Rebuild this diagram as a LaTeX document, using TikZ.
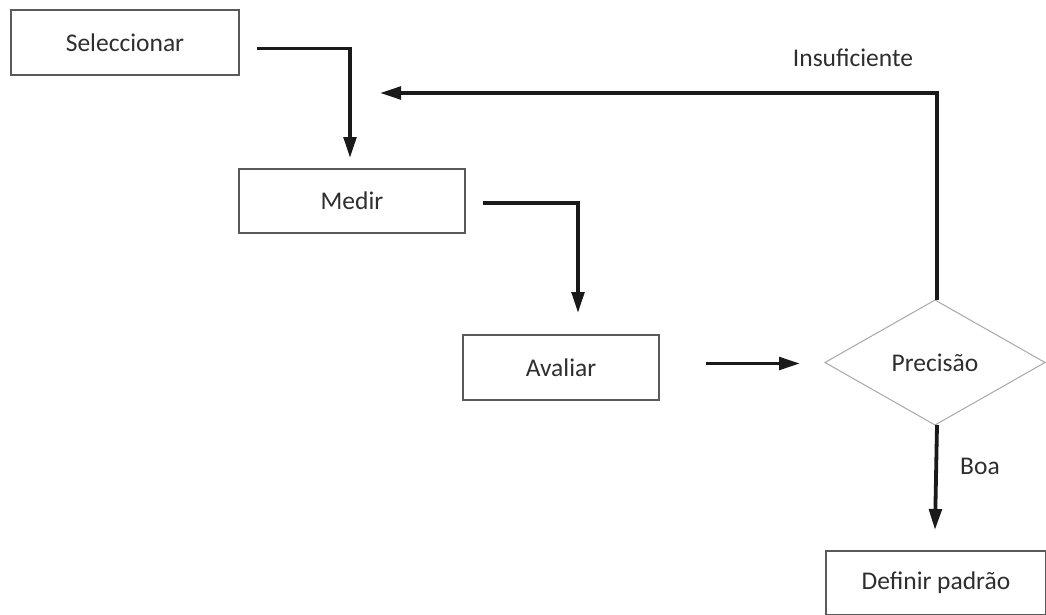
\documentclass[tikz,border=0pt]{standalone}
\usepackage{fontspec}
\setmainfont{Carlito}
\usetikzlibrary{arrows.meta,shapes.geometric,calc}
\definecolor{txt}{HTML}{2E2E2E}
\definecolor{frame}{HTML}{5A5A5A}
\definecolor{dframe}{HTML}{A8A8A8}
\definecolor{conncol}{HTML}{1A1A1A}
\tikzset{
  box/.style={draw=frame, line width=1.4pt, fill=white, inner sep=0pt, outer sep=0pt,
    text=txt, font=\fontsize{25.5}{28}\selectfont},
  decision/.style={diamond, draw=dframe, line width=1pt, inner sep=0pt, outer sep=0pt,
    minimum width=220pt, minimum height=125pt, aspect=1.76,
    text=txt, font=\fontsize{25.5}{28}\selectfont},
  conn/.style={draw=conncol, line width=3.8pt,
    -{Triangle[length=21pt,width=12.5pt]}},
  lbl/.style={text=txt, font=\fontsize{25.5}{28}\selectfont, inner sep=0pt}
}
\begin{document}
\begin{tikzpicture}[x=1pt,y=-1pt]
\useasboundingbox (0,0) rectangle (1046,615);
% process steps
\node[box, minimum width=228pt, minimum height=65pt] (sel) at (125,42.5) {Seleccionar};
\node[box, minimum width=226pt, minimum height=64pt] (med) at (352,201) {Medir};
\node[box, minimum width=196pt, minimum height=65pt] (ava) at (561,367.5) {Avaliar};
\node[decision] (prec) at (935,362.5) {Precisão};
\node[box, minimum width=220pt, minimum height=64pt] (def) at (936,583) {Definir padrão};
% branch labels
\node[lbl] (ins) at (853,58) {Insuficiente};
\node[lbl] (boa) at (980,466) {Boa};
% return point of the feedback loop
\coordinate (ret) at (380,93);
% connectors
\draw[conn] ([xshift=18pt,yshift=-6pt]sel.east) -| ([xshift=-2pt,yshift=11pt]med.north);
\draw[conn] ([xshift=18pt,yshift=-2pt]med.east) -| ([xshift=17pt,yshift=22pt]ava.north);
\draw[conn] ([xshift=47pt,yshift=4pt]ava.east) -- ([xshift=-25pt,yshift=4pt]ava.east -| prec.west);
\draw[conn] ([xshift=2pt]prec.south) -- ([yshift=21pt]prec.south |- def.north);
\draw[conn] ([xshift=2pt]prec.north) |- (ret);
\end{tikzpicture}
\end{document}
